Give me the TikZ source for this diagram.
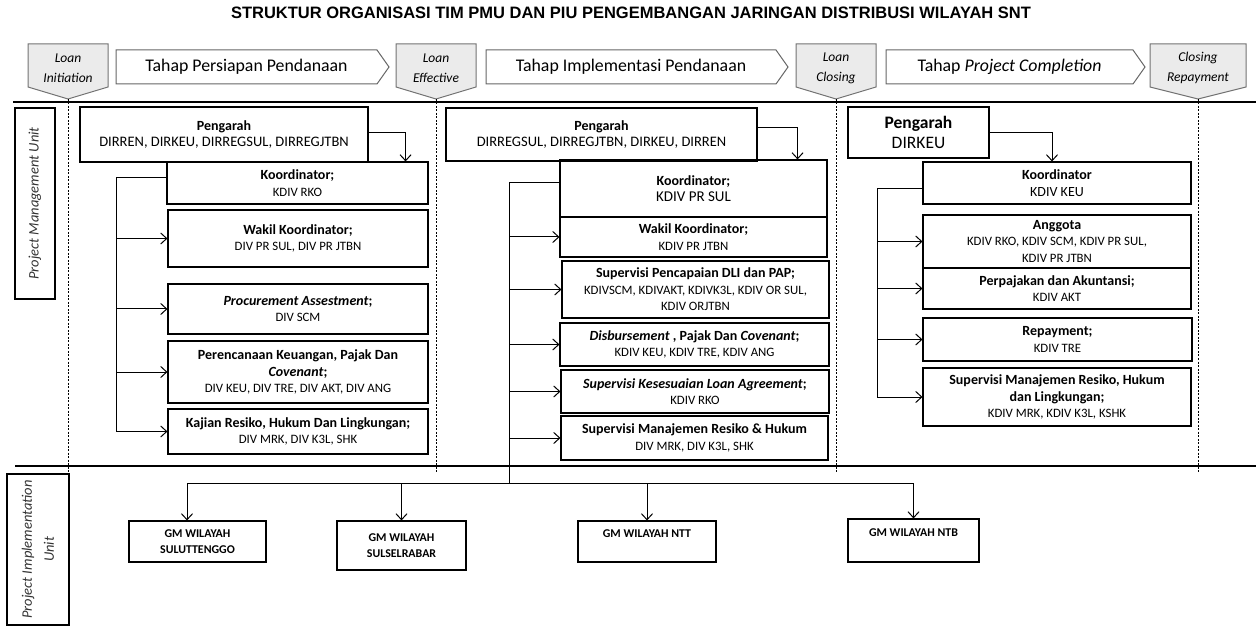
\documentclass[tikz,border=0pt]{standalone}
\usepackage{fontspec}
\setmainfont{Carlito}
\newfontfamily\titlefont{Liberation Sans}
\usetikzlibrary{arrows.meta, calc, positioning}

\newcommand{\boxsub}{\fontsize{12.8}{14}\selectfont}

\tikzset{
  box/.style={draw, line width=1.1pt, inner sep=1pt, align=center, font=\fontsize{14}{16.5}\selectfont},
  gmbox/.style={box, font=\fontsize{11.9}{15.5}\selectfont\bfseries},
  link/.style={line width=1pt},
  arr/.style={link, -{Straight Barb[length=6pt,width=11pt]}},
  mstone/.style={draw=black!55, fill=black!8, line width=1pt},
  mtext/.style={font=\fontsize{13.5}{20}\selectfont\itshape, align=center},
  phase/.style={draw=black!60, fill=white, line width=1pt},
  ptext/.style={font=\fontsize{17.8}{19}\selectfont},
  dashline/.style={dash pattern=on 2pt off 1.5pt, line width=0.9pt},
  sidelbl/.style={draw, line width=1.1pt, rotate=90, align=center, text=black!80,
    font=\fontsize{14.5}{22}\selectfont\itshape},
}

\begin{document}
\begin{tikzpicture}[x=1pt, y=-1pt]
\useasboundingbox (0,0) rectangle (1256,628);

% Title
\node[font=\titlefont\bfseries\fontsize{16.5}{18}\selectfont] (title) at (631,13)
  {STRUKTUR ORGANISASI TIM PMU DAN PIU PENGEMBANGAN JARINGAN DISTRIBUSI WILAYAH SNT};

% Milestones and dashed phase borders
\foreach \cx/\w/\nm/\ta/\tb in {68/80/li/Loan/Initiation, 436/80/le/Loan/Effective,
    836/80/lc/Loan/Closing, 1198/96/cr/Closing/Repayment} {
  \draw[mstone] (\cx-\w/2,44) -- (\cx+\w/2,44) -- (\cx+\w/2,87) -- (\cx,99)
    -- (\cx-\w/2,87) -- cycle;
  \node[mtext] (\nm) at (\cx,68) {\ta\\\tb};
  \coordinate (\nm-top) at (\cx,99);
  \coordinate (\nm-bot) at (\cx,472);
  \draw[dashline] (\nm-top) -- (\nm-bot);
}

% Phases
\foreach \l/\r/\nm/\t in {116/377/ph1/{Tahap Persiapan Pendanaan},
    486/776/ph2/{Tahap Implementasi Pendanaan},
    886/1133/ph3/{Tahap \textit{Project Completion}}} {
  \draw[phase] (\l,50) -- (\r,50) -- (\r+12,67) -- (\r,84) -- (\l,84) -- cycle;
  \node[ptext] (\nm) at ({(\l+\r)/2},67) {\t};
}

% Separators
\draw[line width=1.3pt] (13,102) -- (1256,102);
\draw[line width=1.3pt] (15,466) -- (1256,466);

% Unit labels
\node[sidelbl, minimum width=191, minimum height=40] (pmu) at (35,203.5) {Project Management Unit};
\node[sidelbl, minimum width=151, minimum height=62] (piu) at (38,549.5) {Project Implementation\\Unit};

% Tahap persiapan
\node[box, minimum width=288, minimum height=55] (peng1) at (224,134.5)
  {\textbf{Pengarah}\\ \fontsize{14.5}{16.5}\selectfont DIRREN, DIRKEU, DIRREGSUL, DIRREGJTBN};
\node[box, minimum width=261, minimum height=42] (koor1) at (297.5,183)
  {\textbf{Koordinator;}\\ \boxsub KDIV RKO};
\node[box, minimum width=260, minimum height=57] (wakil1) at (298,238.5)
  {\textbf{Wakil Koordinator;}\\ \boxsub DIV PR SUL, DIV PR JTBN};
\node[box, minimum width=260, minimum height=50] (proc1) at (298,309)
  {\textbf{\textit{Procurement Assestment};}\\ \boxsub DIV SCM};
\node[box, minimum width=260, minimum height=62] (renc1) at (298,372)
  {\textbf{Perencanaan Keuangan, Pajak Dan}\\ \textbf{\textit{Covenant};}\\ \boxsub DIV KEU, DIV TRE, DIV AKT, DIV ANG};
\node[box, minimum width=260, minimum height=45] (kaji1) at (298,431.5)
  {\textbf{Kajian Resiko, Hukum Dan Lingkungan;}\\ \boxsub DIV MRK, DIV K3L, SHK};

% Tahap implementasi
\node[box, minimum width=311, minimum height=53] (peng2) at (601.5,134.5)
  {\textbf{Pengarah}\\ \fontsize{14.5}{16.5}\selectfont DIRREGSUL, DIRREGJTBN, DIRKEU, DIRREN};
\node[box, minimum width=267, minimum height=57] (koor2) at (693.5,188.5)
  {\textbf{Koordinator;}\\ \fontsize{15}{17}\selectfont KDIV PR SUL};
\node[box, minimum width=267, minimum height=40] (wakil2) at (693.5,237)
  {\textbf{Wakil Koordinator;}\\ \boxsub KDIV PR JTBN};
\node[box, minimum width=267, minimum height=57] (pencap2) at (695.5,289.5)
  {\textbf{Supervisi Pencapaian DLI dan PAP;}\\ \boxsub KDIVSCM, KDIVAKT, KDIVK3L, KDIV OR SUL,\\ \boxsub KDIV ORJTBN};
\node[box, minimum width=269, minimum height=43] (disb2) at (694.5,344.5)
  {\textbf{\textit{Disbursement} , Pajak Dan \textit{Covenant};}\\ \boxsub KDIV KEU, KDIV TRE, KDIV ANG};
\node[box, minimum width=268, minimum height=43] (sesuai2) at (695,391.5)
  {\textbf{\textit{Supervisi Kesesuaian Loan Agreement};}\\ \boxsub KDIV RKO};
\node[box, minimum width=267, minimum height=44] (manaj2) at (694.5,438)
  {\textbf{Supervisi Manajemen Resiko \& Hukum}\\ \boxsub DIV MRK, DIV K3L, SHK};

% Tahap project completion
\node[box, minimum width=141, minimum height=51, font=\fontsize{17.5}{20}\selectfont] (peng3) at (918.5,132.5)
  {\textbf{Pengarah}\\ DIRKEU};
\node[box, minimum width=268, minimum height=42] (koor3) at (1057,183)
  {\textbf{Koordinator}\\ KDIV KEU};
\node[box, minimum width=268, minimum height=53] (angg3) at (1057,241.5)
  {\textbf{Anggota}\\ \boxsub KDIV RKO, KDIV SCM, KDIV PR SUL,\\ \boxsub KDIV PR JTBN};
\node[box, minimum width=268, minimum height=41] (pajak3) at (1057,288.5)
  {\textbf{Perpajakan dan Akuntansi;}\\ \boxsub KDIV AKT};
\node[box, minimum width=269, minimum height=43] (repay3) at (1057.5,339.5)
  {\textbf{Repayment;}\\ \boxsub KDIV TRE};
\node[box, minimum width=268, minimum height=58] (supman3) at (1057,397)
  {\textbf{Supervisi Manajemen Resiko, Hukum}\\ \textbf{dan Lingkungan;}\\ \boxsub KDIV MRK, KDIV K3L, KSHK};

% Project implementation unit
\node[gmbox, minimum width=137, minimum height=41] (gm1) at (197.5,541.5) {GM WILAYAH\\ SULUTTENGGO};
\node[gmbox, minimum width=129, minimum height=49] (gm2) at (401.5,545.5) {GM WILAYAH\\ SULSELRABAR};
\node[gmbox, minimum width=138, minimum height=41] (gm3) at (647,541.5) {GM WILAYAH NTT\\ ~};
\node[gmbox, minimum width=131, minimum height=43] (gm4) at (913.5,540.5) {GM WILAYAH NTB\\ ~};

% Pengarah to koordinator
\draw[arr] ([yshift=2pt]peng1.east) -| ([xshift=-23pt]koor1.north east);
\draw[arr] ([yshift=7pt]peng2.east) -| ([xshift=-30pt]koor2.north east);
\draw[arr] (peng3.east) -| ([xshift=-5pt]koor3.north);

% Koordinator to members
\coordinate (t1) at (116,0);
\coordinate (t3) at (877,0);
\coordinate (br) at (509,483);
\draw[link] ([yshift=5pt]koor1.west) -| (t1 |- kaji1.west);
\foreach \b in {wakil1,proc1,renc1,kaji1}
  \draw[arr] (t1 |- \b.west) -- (\b.west);
\draw[link] ([yshift=6pt]koor2.west) -| (br);
\foreach \b in {wakil2,pencap2,disb2,sesuai2,manaj2}
  \draw[arr] (br |- \b.west) -- (\b.west);
\draw[link] ([yshift=-6pt]koor3.west) -| (t3 |- supman3.west);
\foreach \b in {angg3,pajak3,repay3,supman3}
  \draw[arr] (t3 |- \b.west) -- (\b.west);

% Down to GM wilayah
\coordinate (g1) at ([xshift=-10.5pt]gm1.north);
\draw[link] (g1 |- br) -- (gm4.north |- br);
\draw[arr] (g1 |- br) -- (g1);
\foreach \b in {gm2,gm3,gm4}
  \draw[arr] (\b.north |- br) -- (\b.north);

\end{tikzpicture}
\end{document}
